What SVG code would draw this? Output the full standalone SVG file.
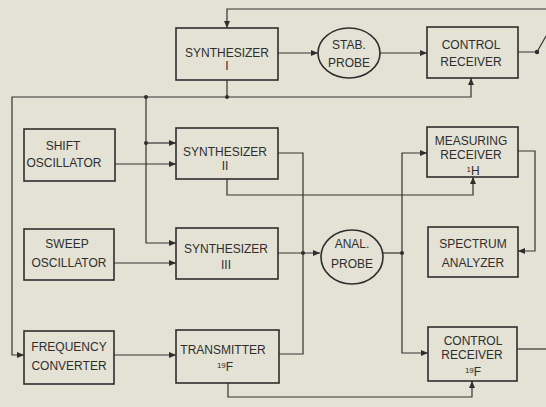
<svg xmlns="http://www.w3.org/2000/svg" width="546" height="407" viewBox="0 0 546 407">
<style>
.bg{fill:#e4e2d5}
.box{fill:none;stroke:#2e2e2e;stroke-width:1.6}
.w{fill:none;stroke:#333;stroke-width:1.2}
.a{marker-end:url(#ah)}
.dot{fill:#2e2e2e}
text{font-family:"Liberation Sans",Arial,sans-serif;font-size:12px;fill:#2e2e2e;text-anchor:middle}
.sup{font-size:8px}
</style>
<defs>
<marker id="ah" markerUnits="userSpaceOnUse" markerWidth="8" markerHeight="6" refX="7" refY="3" orient="auto">
<path d="M0,0 L7,3 L0,6 z" fill="#2e2e2e"/>
</marker>
</defs>
<rect class="bg" x="0" y="0" width="546" height="407"/>
<g id="connectors">
<path class="w a" d="M278,53 H318"/>
<path class="w a" d="M380,53 H427"/>
<path class="w" d="M518,52 H537 L546,36"/>
<path class="w a" d="M546,9 H227 V28"/>
<path class="w a" d="M227,97 H471 V78"/>
<path class="w a" d="M227,80 V97 H12 V355 H24"/>
<path class="w a" d="M146,97 V243 H176"/>
<path class="w a" d="M146,143 H176"/>
<path class="w a" d="M115,164 H176"/>
<path class="w a" d="M114,263 H176"/>
<path class="w a" d="M114,355 H176"/>
<path class="w" d="M278,153 H303 V253"/>
<path class="w" d="M279,354 H303 V253"/>
<path class="w a" d="M278,253 H320"/>
<path class="w a" d="M227,179 V195 H473 V177"/>
<path class="w" d="M383,253 H402"/>
<path class="w a" d="M402,253 V153 H427"/>
<path class="w a" d="M402,253 V353 H428"/>
<path class="w a" d="M518,151 H535 V251 H518"/>
<path class="w a" d="M228,383 V397 H472 V381"/>
<path class="w" d="M517,349 H546"/>
<circle class="dot" cx="537" cy="52" r="2.2"/>
<circle class="dot" cx="227" cy="97" r="2"/>
<circle class="dot" cx="146" cy="97" r="2"/>
<circle class="dot" cx="146" cy="143" r="2"/>
<circle class="dot" cx="303" cy="253" r="2"/>
<circle class="dot" cx="402" cy="253" r="2"/>
</g>
<g id="synth1">
<rect class="box" x="176" y="28" width="102" height="52"/>
<text x="227" y="57">SYNTHESIZER</text>
<text x="227" y="70">I</text>
</g>
<g id="stabprobe">
<ellipse class="box" cx="349" cy="53" rx="31" ry="25"/>
<text x="349" y="49">STAB.</text>
<text x="349" y="67">PROBE</text>
</g>
<g id="controlrx1">
<rect class="box" x="427" y="27" width="91" height="51"/>
<text x="471" y="49">CONTROL</text>
<text x="471" y="66">RECEIVER</text>
</g>
<g id="shiftosc">
<rect class="box" x="24" y="129" width="91" height="52"/>
<text x="63" y="150">SHIFT</text>
<text x="64" y="167">OSCILLATOR</text>
</g>
<g id="synth2">
<rect class="box" x="176" y="128" width="102" height="51"/>
<text x="225" y="156">SYNTHESIZER</text>
<text x="225" y="170">II</text>
</g>
<g id="measrx">
<rect class="box" x="427" y="127" width="91" height="50"/>
<text x="471" y="145">MEASURING</text>
<text x="471" y="159">RECEIVER</text>
<text x="473" y="175"><tspan class="sup" dy="-3">1</tspan><tspan dy="3">H</tspan></text>
</g>
<g id="sweeposc">
<rect class="box" x="24" y="229" width="90" height="51"/>
<text x="67" y="248">SWEEP</text>
<text x="69" y="267">OSCILLATOR</text>
</g>
<g id="synth3">
<rect class="box" x="176" y="228" width="102" height="51"/>
<text x="226" y="253">SYNTHESIZER</text>
<text x="226" y="269">III</text>
</g>
<g id="analprobe">
<ellipse class="box" cx="352" cy="257" rx="31" ry="27"/>
<text x="352" y="248">ANAL.</text>
<text x="352" y="268">PROBE</text>
</g>
<g id="specanalyzer">
<rect class="box" x="428" y="227" width="90" height="50"/>
<text x="473" y="248">SPECTRUM</text>
<text x="473" y="267">ANALYZER</text>
</g>
<g id="freqconv">
<rect class="box" x="24" y="331" width="90" height="53"/>
<text x="69" y="351">FREQUENCY</text>
<text x="69" y="370">CONVERTER</text>
</g>
<g id="transmitter">
<rect class="box" x="176" y="330" width="103" height="53"/>
<text x="223" y="354">TRANSMITTER</text>
<text x="225" y="371"><tspan class="sup" dy="-3">19</tspan><tspan dy="3">F</tspan></text>
</g>
<g id="controlrx2">
<rect class="box" x="428" y="327" width="89" height="54"/>
<text x="473" y="345">CONTROL</text>
<text x="472" y="359">RECEIVER</text>
<text x="473" y="376"><tspan class="sup" dy="-3">19</tspan><tspan dy="3">F</tspan></text>
</g>
</svg>
